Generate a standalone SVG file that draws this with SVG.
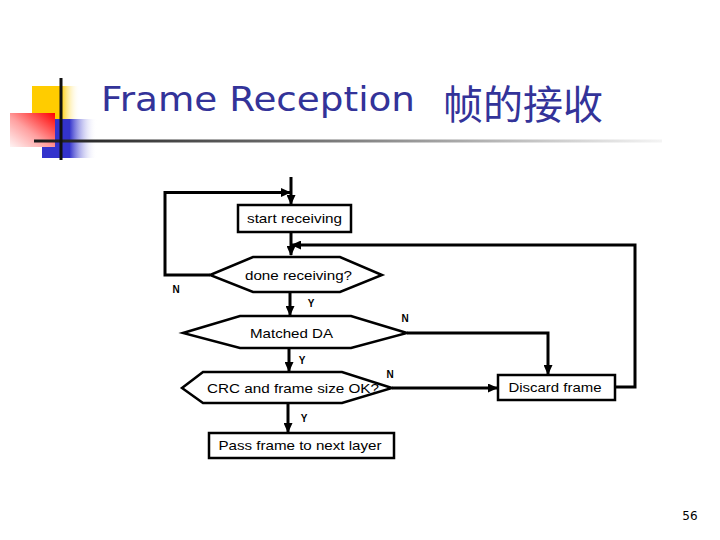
<svg xmlns="http://www.w3.org/2000/svg" width="720" height="540" viewBox="0 0 720 540">
<defs>
<linearGradient id="gYellow" x1="0" y1="0" x2="1" y2="0">
<stop offset="0" stop-color="#FFCC00"/><stop offset="0.6" stop-color="#FFCC00"/><stop offset="1" stop-color="#FFFFFF" stop-opacity="0"/>
</linearGradient>
<linearGradient id="gBlue" x1="0" y1="0" x2="1" y2="0">
<stop offset="0" stop-color="#3333CC"/><stop offset="0.5" stop-color="#3333CC"/><stop offset="1" stop-color="#FFFFFF" stop-opacity="0"/>
</linearGradient>
<linearGradient id="gRed" x1="1" y1="0" x2="0" y2="1">
<stop offset="0" stop-color="#FF0000"/><stop offset="0.55" stop-color="#FFA0A0"/><stop offset="1" stop-color="#FFF4F4"/>
</linearGradient>
<linearGradient id="gLine" x1="0" y1="0" x2="1" y2="0">
<stop offset="0" stop-color="#1A1A1A"/><stop offset="0.5" stop-color="#808080"/><stop offset="1" stop-color="#F4F4F4"/>
</linearGradient>
<marker id="arr" markerUnits="userSpaceOnUse" markerWidth="10" markerHeight="9" refX="9" refY="4.5" orient="auto">
<path d="M0,0 L10,4.5 L0,9 z" fill="#000"/>
</marker>
</defs>
<style>
.shape{fill:#fff;stroke:#000;stroke-width:2.5}
.conn{fill:none;stroke:#000;stroke-width:3}
.lbl{font-family:"Liberation Sans",Arial,sans-serif;font-size:13px;fill:#000;text-anchor:middle}
.yn{font-family:"Liberation Sans",Arial,sans-serif;font-size:10px;font-weight:bold;fill:#000;text-anchor:middle}
</style>
<rect width="720" height="540" fill="#fff"/>
<g id="decor">
<rect x="32" y="86" width="48" height="33" fill="url(#gYellow)"/>
<rect x="42" y="119" width="55" height="39" fill="url(#gBlue)"/>
<rect x="10" y="113" width="45" height="34" fill="url(#gRed)"/>
<rect x="34" y="139.5" width="628" height="3" fill="url(#gLine)"/>
<rect x="59.5" y="78" width="3" height="82" fill="#111"/>
</g>
<g id="title">
<text x="101" y="111" font-family="'DejaVu Sans',Verdana,sans-serif" font-size="34" fill="#333399" textLength="314" lengthAdjust="spacingAndGlyphs">Frame Reception</text>
<text x="443" y="119" font-family="'Noto Sans CJK SC',sans-serif" font-size="40" fill="#333399">帧的接收</text>
</g>
<g id="connectors">
<path class="conn" d="M291,177 V204" marker-end="url(#arr)"/>
<path class="conn" d="M210,275 H165 V192.5 H290" marker-end="url(#arr)"/>
<path class="conn" d="M291,232 V255" marker-end="url(#arr)"/>
<path class="conn" d="M615,387 H635 V245 H292" marker-end="url(#arr)"/>
<path class="conn" d="M290,292 V315" marker-end="url(#arr)"/>
<path class="conn" d="M407,333 H548 V374" marker-end="url(#arr)"/>
<path class="conn" d="M289,348 V371" marker-end="url(#arr)"/>
<path class="conn" d="M392,388 H497" marker-end="url(#arr)"/>
<path class="conn" d="M288,403 V432" marker-end="url(#arr)"/>
</g>
<g id="start">
<rect class="shape" x="238" y="205" width="113" height="27"/>
<text class="lbl" x="294.5" y="223" textLength="95" lengthAdjust="spacingAndGlyphs">start receiving</text>
</g>
<g id="done">
<polygon class="shape" points="253,257 340,257 382,275 340,292 253,292 210,275"/>
<text class="lbl" x="298.5" y="279.5" textLength="107" lengthAdjust="spacingAndGlyphs">done receiving?</text>
</g>
<g id="matched">
<polygon class="shape" points="240,316 351,316 407,333 351,348 240,348 183,333"/>
<text class="lbl" x="291.5" y="337.5" textLength="83" lengthAdjust="spacingAndGlyphs">Matched DA</text>
</g>
<g id="crc">
<polygon class="shape" points="203,372 342,372 392,388 342,403 203,403 182,388"/>
<text class="lbl" x="207" y="393" style="text-anchor:start" textLength="172" lengthAdjust="spacingAndGlyphs">CRC and frame size OK?</text>
</g>
<g id="discard">
<rect class="shape" x="498" y="375" width="117" height="25"/>
<text class="lbl" x="555" y="392" textLength="93" lengthAdjust="spacingAndGlyphs">Discard frame</text>
</g>
<g id="pass">
<rect class="shape" x="209" y="433" width="185" height="25"/>
<text class="lbl" x="300" y="450" textLength="163" lengthAdjust="spacingAndGlyphs">Pass frame to next layer</text>
</g>
<g id="labels">
<text class="yn" x="176" y="293">N</text>
<text class="yn" x="311" y="307">Y</text>
<text class="yn" x="405" y="322">N</text>
<text class="yn" x="302" y="364">Y</text>
<text class="yn" x="390" y="378">N</text>
<text class="yn" x="304" y="422">Y</text>
</g>
<text x="690" y="520" font-family="'DejaVu Sans',Verdana,sans-serif" font-size="12" fill="#000" text-anchor="middle">56</text>
</svg>
